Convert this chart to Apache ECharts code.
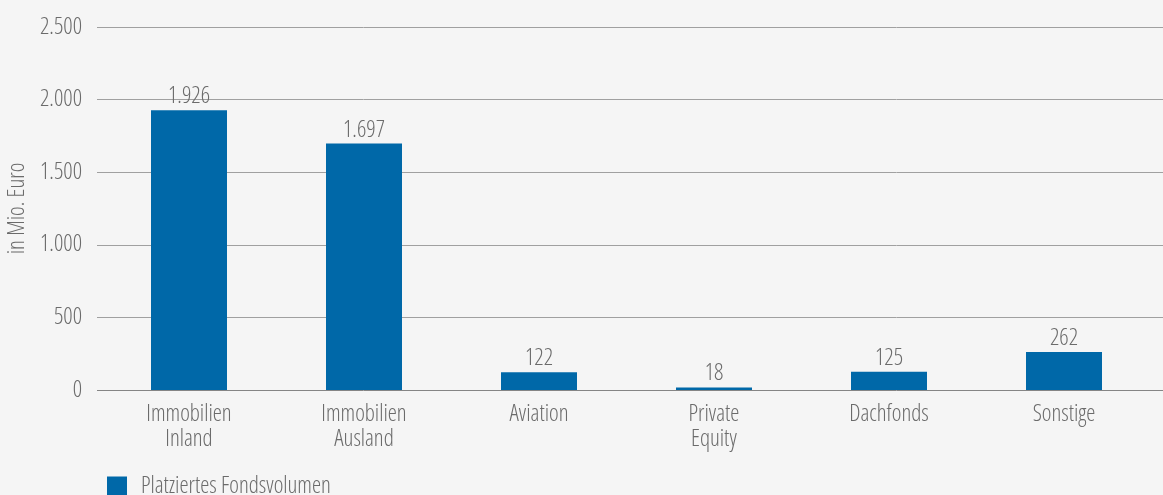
<!DOCTYPE html>
<html><head><meta charset="utf-8">
<script src="https://cdn.jsdelivr.net/npm/echarts@6/dist/echarts.min.js"></script>
<style>html,body{margin:0;padding:0;background:#f5f5f5}#c{width:1163px;height:495px}</style>
</head><body><div id="c"></div>
<script>
const categories = ['Immobilien\nInland','Immobilien\nAusland','Aviation','Private\nEquity','Dachfonds','Sonstige'];
const values = [1926, 1697, 122, 18, 125, 262];
const seriesName = 'Platziertes Fondsvolumen';
const yAxisName = 'in Mio. Euro';
const yMin = 0, yMax = 2500, yStep = 500;

const FONT = '"Open Sans","Roboto Condensed",sans-serif';
const FW = '300 condensed';
const FS = 23;
const TXT = '#6b6b6b';
const fmt = v => String(v).replace(/\B(?=(\d{3})+(?!\d))/g, '.');
const ts = extra => Object.assign({ fontFamily: FONT, fontWeight: FW, fontSize: FS, color: TXT }, extra || {});

const chart = echarts.init(document.getElementById('c'));
chart.setOption({
  backgroundColor: '#f5f5f5',
  animation: false,
  legend: {
    data: [seriesName], left: 102, top: 470, itemWidth: 20, itemHeight: 20, itemGap: 10,
    icon: 'rect',
    textStyle: ts({ padding: [0, 0, 0, 9] })
  },
  grid: [
    { left: 101.5, right: 11.5, top: 27, bottom: 105, outerBoundsMode: 'none', containLabel: false },
    { left: 97, right: 0, top: 27, bottom: 105, outerBoundsMode: 'none', containLabel: false }
  ],
  xAxis: [
    { type: 'category', gridIndex: 0, data: categories,
      axisTick: { show: false },
      axisLine: { show: false },
      axisLabel: ts({ margin: 12, lineHeight: 25, interval: 0 }) },
    { type: 'value', gridIndex: 1, show: false, min: 0, max: 1 }
  ],
  yAxis: [
    { type: 'value', gridIndex: 0, min: yMin, max: yMax, interval: yStep,
      axisLabel: { show: false }, splitLine: { show: false }, axisLine: { show: false }, axisTick: { show: false } },
    { type: 'value', gridIndex: 1, min: yMin, max: yMax, interval: yStep,
      name: yAxisName, nameLocation: 'middle', nameGap: 65, nameRotate: 90,
      nameTextStyle: ts(),
      axisLabel: ts({ margin: 15, formatter: fmt }),
      axisLine: { show: false }, axisTick: { show: false },
      splitLine: { lineStyle: { color: ['#858585', '#a0a0a0', '#a0a0a0', '#a0a0a0', '#a0a0a0', '#a0a0a0'], width: 1 } } }
  ],
  series: [
    { name: seriesName, type: 'bar', xAxisIndex: 0, yAxisIndex: 0, data: values,
      barWidth: 76, itemStyle: { color: '#0068a8' },
      label: ts({ show: true, position: 'top', distance: 2, formatter: p => fmt(p.value) }) }
  ]
});
</script></body></html>
